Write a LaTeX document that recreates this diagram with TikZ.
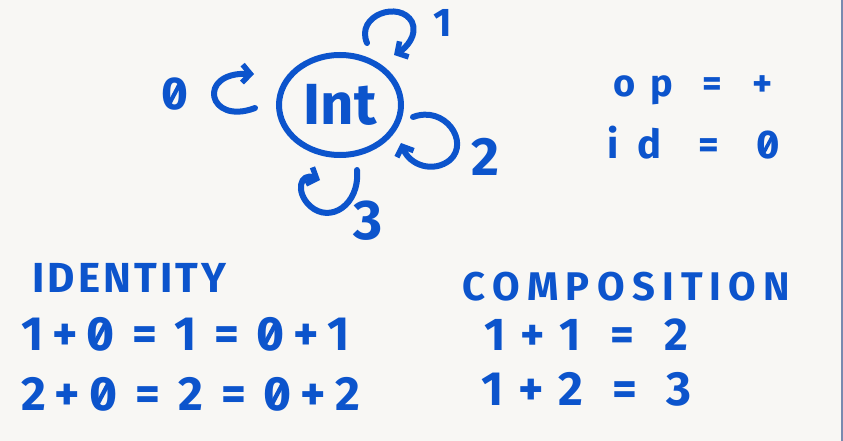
\documentclass[tikz,border=0pt]{standalone}
\usepackage{fontspec}
\setmainfont{Fira Sans}
\usetikzlibrary{arrows.meta,shapes.geometric}
\definecolor{ink}{RGB}{12,84,204}
\definecolor{paper}{RGB}{248,247,244}
\definecolor{edge}{RGB}{120,138,175}
\newcommand{\spr}[2]{\makebox[#1][s]{#2}}
\newlength\zwid
\newcommand{\zr}{\settowidth{\zwid}{0}\rlap{0}\makebox[\zwid][c]{\raisebox{0.1em}{\rotatebox{62}{\color{ink}\rule{0.54em}{0.09em}}}}}
\begin{document}
\begin{tikzpicture}[x=1pt,y=-1pt,
  hand/.style={font=\fontsize{#1}{#1}\selectfont\bfseries, text=ink, inner sep=0pt},
  line/.style={anchor=base west},
  loopline/.style={draw=ink, line width=6pt, line cap=round, line join=round,
    -{Straight Barb[length=8pt,width=18pt,line width=5.5pt]}},
  setnode/.style={ellipse, draw=ink, line width=6pt, minimum width=122pt,
    minimum height=100pt, inner sep=0pt}]
\fill[paper] (0,0) rectangle (843,441);
\useasboundingbox (0,0) rectangle (843,441);
\draw[edge, line width=1.5pt] (842.2,0) -- (842.2,441);

% central object
\node[setnode, hand=58] (int) at (340,105) {Int};

% self loops
\coordinate (l1s) at (367,43);  \coordinate (l1e) at (394,55);
\draw[loopline] (l1s) .. controls (355,15) and (400,0) .. (412,22)
                      .. controls (418,35) and (406,48) .. (l1e);
\coordinate (l0s) at (255,108); \coordinate (l0e) at (254,74);
\draw[loopline] (l0s) .. controls (208,126) and (196,72) .. (l0e);
\coordinate (l2s) at (413,117); \coordinate (l2e) at (401,143);
\draw[loopline] (l2s) .. controls (445,105) and (470,142) .. (450,160)
                      .. controls (434,173) and (410,166) .. (l2e);
\coordinate (l3s) at (357,170); \coordinate (l3e) at (320,180);
\draw[loopline] (l3s) .. controls (360,205) and (330,224) .. (310,206)
                      .. controls (295,192) and (300,172) .. (l3e);

% loop labels
\node[hand=40] (n1) at (443,23) {1};
\node[hand=46] (n0) at (175,94) {\zr};
\node[hand=54] (n2) at (485,157) {2};
\node[hand=56] (n3) at (368,221) {3};

% op / id
\node[hand=38, line] (op) at (613,97) {\spr{159pt}{o\hfil p\hfil\hfil=\hfil\hfil+}};
\node[hand=40, line] (id) at (607,158) {\spr{173pt}{i\hfil d\hfil\hfil=\hfil\hfil\zr}};

% identity
\node[hand=42, line] (idt) at (32,292) {\spr{194pt}{I\hfil D\hfil E\hfil N\hfil T\hfil I\hfil T\hfil Y}};
\node[hand=48, line] (i1) at (21,350) {\spr{329pt}{1\hfil+\hfil\zr\hfil\hfil=\hfil\hfil1\hfil\hfil=\hfil\hfil\zr\hfil+\hfil1}};
\node[hand=48, line] (i2) at (21,410) {\spr{339pt}{2\hfil+\hfil\zr\hfil\hfil=\hfil\hfil2\hfil\hfil=\hfil\hfil\zr\hfil+\hfil2}};

% composition
\node[hand=40, line] (cmp) at (462,300) {\spr{328pt}{C\hfil O\hfil M\hfil P\hfil O\hfil S\hfil I\hfil T\hfil I\hfil O\hfil N}};
\node[hand=46, line] (c1) at (484,350) {\spr{204pt}{1\hfil+\hfil1\hfil\hfil=\hfil\hfil2}};
\node[hand=48, line] (c2) at (481,405) {\spr{210pt}{1\hfil+\hfil2\hfil\hfil=\hfil\hfil3}};
\end{tikzpicture}
\end{document}
